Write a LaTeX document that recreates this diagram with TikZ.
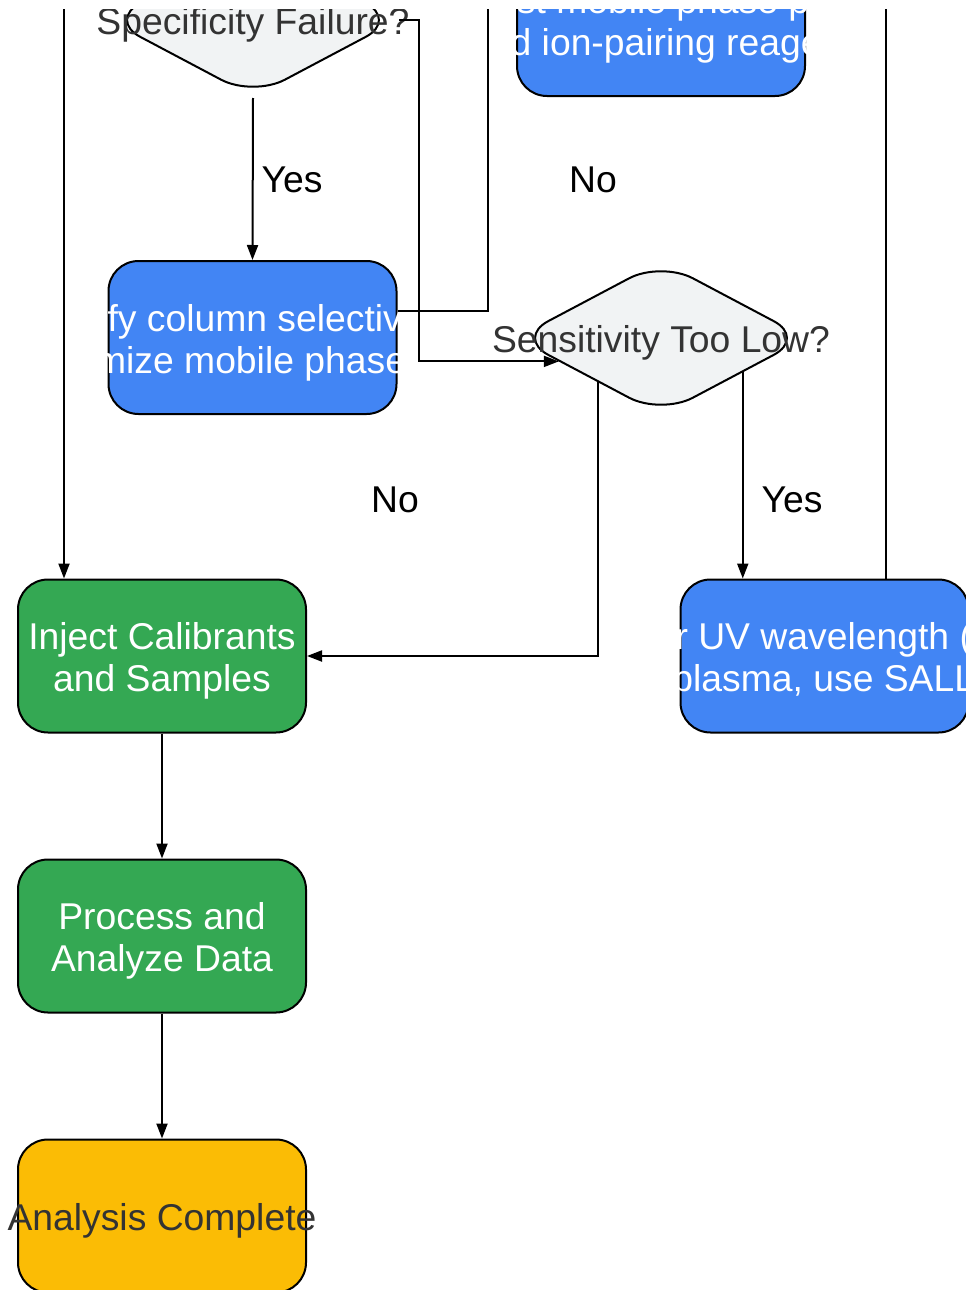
\documentclass[tikz,border=0pt]{standalone}
\usepackage{fontspec}
\setmainfont{Liberation Sans}
\usetikzlibrary{
  shapes.geometric,
  positioning,
  calc,
  arrows.meta}
\definecolor{fixcolor}{HTML}{4285F4}
\definecolor{runcolor}{HTML}{34A853}
\definecolor{donecolor}{HTML}{FBBC05}
\definecolor{decisioncolor}{HTML}{F1F3F4}
\definecolor{darktext}{HTML}{333333}
\tikzset{
  %% action : a rounded box of the workflow, its text is put on top separately
  action/.style={
    rectangle,
    rounded corners=30pt,
    draw=black,
    line width=2pt,
    minimum width=288pt,
    minimum height=153pt,
    inner sep=0pt
  },
  %% decision : a question, its text is put on top separately
  decision/.style={
    diamond,
    rounded corners=36pt,
    draw=black,
    line width=2pt,
    fill=decisioncolor,
    minimum width=290pt,
    minimum height=154pt,
    inner sep=0pt
  },
  %% boxtext : text of a box (it may be wider than its box)
  boxtext/.style={
    font=\fontsize{37.3pt}{42pt}\selectfont,
    text=white,
    inner sep=0pt,
    yshift=-5pt,
    align=center
  },
  decisiontext/.style={
    boxtext,
    text=darktext
  },
  %% answer : yes / no on a connection
  answer/.style={
    font=\fontsize{37.3pt}{42pt}\selectfont,
    text=black,
    inner sep=0pt
  },
  %% link : connection between two steps
  link/.style={
    line width=2pt,
    -{Triangle[length=15pt, width=11pt]}
  }
}

\begin{document}
\begin{tikzpicture}
  [x=1pt,
  y=-1pt]

  %% Picture area, the top strip stays empty
  \useasboundingbox (0, 0) rectangle (966, 1290);
  \clip (0, 10) rectangle (966, 1290);

  %% Decisions
  \node (spec) [decision] at (253, 20) {};
  \node (specText) [decisiontext] at (spec) {Specificity Failure?};

  \node (sens) [decision] at (661, 338) {};
  \node (sensText) [decisiontext] at (sens) {Sensitivity Too Low?};

  %% Remedies
  \node (modify) [action, fill=fixcolor] at (252.5, 337.5) {};
  \node (modifyText) [boxtext, align=left, anchor=west] at
  ($(modify.west) + (-81, 0)$) {%
    Modify column selectivity\\
    Optimize mobile phase};

  \node (adjust) [action, fill=fixcolor] at (661, 19.5) {};
  \node (adjustText) [boxtext] at (adjust) {%
    Adjust mobile phase pH or\\
    add ion-pairing reagent};

  %% Main run
  \node (inject) [action, fill=runcolor] at (162, 656) {};
  \node (injectText) [boxtext] at (inject) {%
    Inject Calibrants\\
    and Samples};

  \node (uv) [action, fill=fixcolor, right=372.5pt of inject] {};
  \node (uvText) [boxtext, xshift=-9pt] at (uv) {%
    Use lower UV wavelength (205 nm)\\
    In plasma, use SALLE};

  \node (process) [action, fill=runcolor, below=125pt of inject] {};
  \node (processText) [boxtext] at (process) {%
    Process and\\
    Analyze Data};

  \node (done) [action, fill=donecolor, below=125pt of process] {};
  \node (doneText) [decisiontext] at (done) {Analysis Complete};

  %% Answers
  \node (specYes) [answer] at (292, 180) {Yes};
  \node (specNo) [answer] at (593, 180) {No};
  \node (sensNo) [answer] at (395, 500) {No};
  \node (sensYes) [answer] at (792, 500) {Yes};

  %% Ends of connections that leave the picture
  \coordinate (upa) at (488, -80);
  \coordinate (upb) at (64, -80);
  \coordinate (upc) at (886, -80);

  %% Points on the sides of the diamond
  \coordinate (sensin) at ($(sens.west)!0.3!(sens.south)$);
  \coordinate (sensleft) at ($(sens.west)!0.57!(sens.south)$);
  \coordinate (sensright) at ($(sens.south)!0.56!(sens.east)$);

  %% Connections
  \draw [link] (spec.south) -- (modify.north);
  \draw [link] (spec.east) -- ++(20, 0) |- (sensin);
  \draw [link] ([yshift=26.5pt]modify.east) -| (upa);
  \draw [link] (upb) -- (upb |- inject.north);
  \draw [link] (sensleft) |- (inject.east);
  \draw [link] (sensright) -- (sensright |- uv.north);
  \draw [link] (uv.north -| upc) -- (upc);
  \draw [link] (inject) -- (process);
  \draw [link] (process) -- (done);

\end{tikzpicture}
\end{document}
